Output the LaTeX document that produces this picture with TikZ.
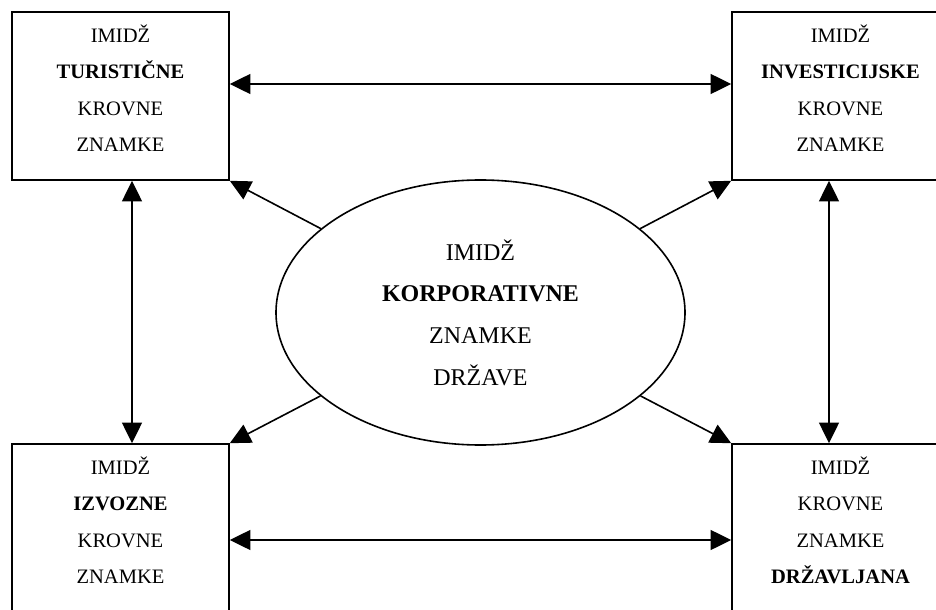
\documentclass[tikz,border=0pt]{standalone}
\usepackage{fontspec}
\setmainfont{Liberation Serif}
\usetikzlibrary{arrows.meta,shapes.geometric,calc}

\tikzset{
  brandbox/.style={draw, line width=1.2pt, minimum width=162.75pt, minimum height=126pt, inner sep=0pt},
  brandtext/.style={align=center, inner sep=0pt, anchor=north, font=\fontsize{15.4}{27.4}\selectfont},
  corpellipse/.style={draw, ellipse, line width=1.2pt, minimum width=306.75pt, minimum height=198.75pt, inner sep=0pt, align=center, font=\fontsize{18}{31.3}\selectfont},
  onelink/.style={line width=1.2pt, -{Triangle[length=15.5pt,width=15pt]}},
  twolink/.style={line width=1.2pt, {Triangle[length=15.5pt,width=15pt]}-{Triangle[length=15.5pt,width=15pt]}},
}

\begin{document}
\begin{tikzpicture}[x=0.75pt,y=0.75pt,yscale=-1,xscale=1]
\useasboundingbox (0,0) rectangle (936,610);
\clip (0,0) rectangle (936,610);

%Boxes
\node [brandbox] (tur) at (120.5,96) {};
\node [brandbox] (inv) at (840.5,96) {};
\node [brandbox] (izv) at (120.5,528) {};
\node [brandbox] (drz) at (840.5,528) {};
%Ellipse
\node [corpellipse] (kor) at (480.5,312.5) {IMIDŽ\\\textbf{KORPORATIVNE}\\ZNAMKE\\DRŽAVE};

% Text Node
\node [brandtext] (turT) at ($(tur.north)+(0,13)$) {IMIDŽ\\\textbf{TURISTIČNE}\\KROVNE\\ZNAMKE};
% Text Node
\node [brandtext] (invT) at ($(inv.north)+(0,13)$) {IMIDŽ\\\textbf{INVESTICIJSKE}\\KROVNE\\ZNAMKE};
% Text Node
\node [brandtext] (izvT) at ($(izv.north)+(0,13)$) {IMIDŽ\\\textbf{IZVOZNE}\\KROVNE\\ZNAMKE};
% Text Node
\node [brandtext] (drzT) at ($(drz.north)+(0,13)$) {IMIDŽ\\KROVNE\\ZNAMKE\\\textbf{DRŽAVLJANA}};

%Straight Lines
\draw [twolink] ($(tur.east)+(0,-12)$) -- ($(inv.west)+(0,-12)$);
\draw [twolink] ($(izv.east)+(0,12)$) -- ($(drz.west)+(0,12)$);
\draw [twolink] ($(tur.south)+(11.5,0)$) -- ($(izv.north)+(11.5,0)$);
\draw [twolink] ($(inv.south)+(-11.5,0)$) -- ($(drz.north)+(-11.5,0)$);
%Diagonal Lines
\draw [onelink] (kor) -- (tur.south east);
\draw [onelink] (kor) -- (inv.south west);
\draw [onelink] (kor) -- (izv.north east);
\draw [onelink] (kor) -- (drz.north west);

\end{tikzpicture}
\end{document}
